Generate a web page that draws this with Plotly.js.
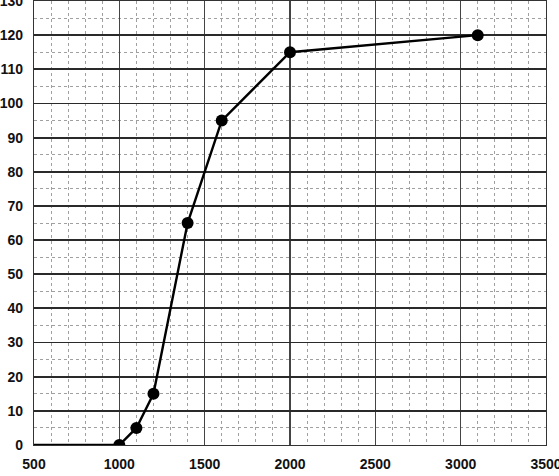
<!DOCTYPE html>
<html>
<head>
<meta charset="utf-8">
<script src="https://cdn.plot.ly/plotly-3.0.1.min.js"></script>
<style>
  html, body { margin: 0; padding: 0; background: #fff; }
  #plot { width: 559px; height: 476px; }
</style>
</head>
<body>
<div id="plot"></div>
<script>
// values
var x_values = [500, 1000, 1100, 1200, 1400, 1600, 2000, 3100]
var y_values = [0, 0, 5, 15, 65, 95, 115, 120]
var x_ticks = [500, 1000, 1500, 2000, 2500, 3000, 3500]
var y_ticks = [0, 10, 20, 30, 40, 50, 60, 70, 80, 90, 100, 110, 120, 130]

var plotDiv = document.getElementById('plot');

// first point only starts the flat segment, no dot drawn there
var marker_sizes = x_values.map(function (v, i) { return i === 0 ? 0 : 12 })

var curve_trace = {
   x: x_values,
   y: y_values,
   mode: 'lines+markers',
   line: {width: 2.4, color: '#000000'},
   marker: {size: marker_sizes, color: '#000000', opacity: 1,
            line: {width: 0, color: '#000000'}},
   hoverinfo: 'x+y',
   showlegend: false
};

var tick_font = {
   family: 'Liberation Sans, Arial, sans-serif',
   size: 14,
   weight: 'bold',
   color: '#111111'
}

var xaxis_layout = {
   range: [500, 3500],
   tickvals: x_ticks,
   ticktext: x_ticks.map(String),
   tickfont: tick_font,
   ticks: '',
   ticklabelstandoff: 6,
   ticklabeloverflow: 'allow',
   showgrid: true,
   gridcolor: '#444444',
   gridwidth: 1.2,
   zeroline: false,
   showline: true,
   mirror: true,
   linecolor: '#333333',
   linewidth: 1.2,
   minor: {
      dtick: 100,
      showgrid: true,
      gridcolor: '#a0a0a0',
      gridwidth: 1,
      griddash: 'dot'
   }
}

var yaxis_layout = {
   range: [0, 130],
   tickvals: y_ticks,
   ticktext: y_ticks.map(String),
   tickfont: tick_font,
   ticks: '',
   ticklabelstandoff: 7,
   ticklabeloverflow: 'allow',
   showgrid: true,
   gridcolor: '#2a2a2a',
   gridwidth: 1.8,
   zeroline: false,
   showline: true,
   mirror: true,
   linecolor: '#333333',
   linewidth: 1.2,
   minor: {
      dtick: 5,
      showgrid: true,
      gridcolor: '#a0a0a0',
      gridwidth: 1,
      griddash: 'dot'
   }
}

Plotly.newPlot(plotDiv, [curve_trace], {
   width: 559,
   height: 476,
   margin: {l: 34, r: 13, t: 1, b: 31},
   paper_bgcolor: '#ffffff',
   plot_bgcolor: '#ffffff',
   xaxis: xaxis_layout,
   yaxis: yaxis_layout
}, {staticPlot: true});
</script>
</body>
</html>
